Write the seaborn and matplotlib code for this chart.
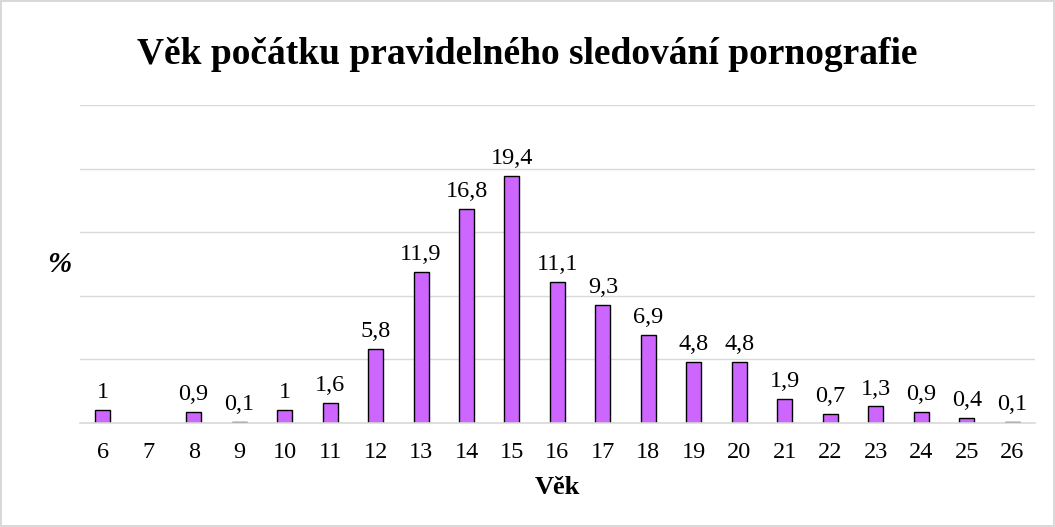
import numpy as np
import pandas as pd
import matplotlib
matplotlib.use("Agg")
import matplotlib.pyplot as plt
import seaborn as sns

ages = ["6", "7", "8", "9", "10", "11", "12", "13", "14", "15", "16", "17", "18",
        "19", "20", "21", "22", "23", "24", "25", "26"]
values = [1, np.nan, 0.9, 0.1, 1, 1.6, 5.8, 11.9, 16.8, 19.4, 11.1, 9.3, 6.9,
          4.8, 4.8, 1.9, 0.7, 1.3, 0.9, 0.4, 0.1]
yticks = [0, 5, 10, 15, 20, 25]

sns.set_theme(style="white")
plt.rcParams['font.family'] = ['Liberation Serif', 'DejaVu Serif']
plt.rcParams['text.color'] = 'black'
plt.rcParams['axes.labelcolor'] = 'black'
plt.rcParams['xtick.color'] = 'black'

df = pd.DataFrame({"age": ages, "pct": values})

fig = plt.figure(figsize=(10.55, 5.27), dpi=100)
ax = fig.add_axes([0.0758, 0.1973, 0.9052, 0.6035])

sns.barplot(data=df, x="age", y="pct", order=ages, color="#CC66FF",
            saturation=1, width=0.33, edgecolor="black", linewidth=1.0, ax=ax)

ax.set_ylim(0, 25)
ax.set_yticks(yticks)
ax.set_yticklabels([])
ax.yaxis.grid(True, color="#D9D9D9", linewidth=1.0)
ax.set_axisbelow(True)
for s in ["top", "right", "left"]:
    ax.spines[s].set_visible(False)
ax.spines["bottom"].set_color("#D9D9D9")
ax.spines["bottom"].set_linewidth(1.2)
ax.tick_params(axis="both", length=0)
ax.tick_params(axis="x", labelsize=17.5, pad=14, labelcolor="black")

for p in ax.patches:
    h = p.get_height()
    if h is None or np.isnan(h):
        continue
    lab = ("%g" % h).replace(".", ",")
    ax.annotate(lab, (p.get_x() + p.get_width() / 2, h), xytext=(0, 5),
                textcoords="offset points", ha="center", va="bottom",
                fontsize=17.5, color="black")

ax.set_xlabel("Věk", fontsize=19, fontweight="bold", labelpad=9, color="black")
ax.set_ylabel("%", fontsize=21, fontweight="bold", fontstyle="italic",
              rotation=0, color="black", ha="center", va="center")
ax.yaxis.set_label_coords(-0.022, 0.497)

fig.suptitle("Věk počátku pravidelného sledování pornografie", fontsize=27,
             fontweight="bold", y=0.93, color="black")

fig.patch.set_edgecolor("#D9D9D9")
fig.patch.set_linewidth(1.5)

fig.savefig("out.png", dpi=100, edgecolor=fig.get_edgecolor())
